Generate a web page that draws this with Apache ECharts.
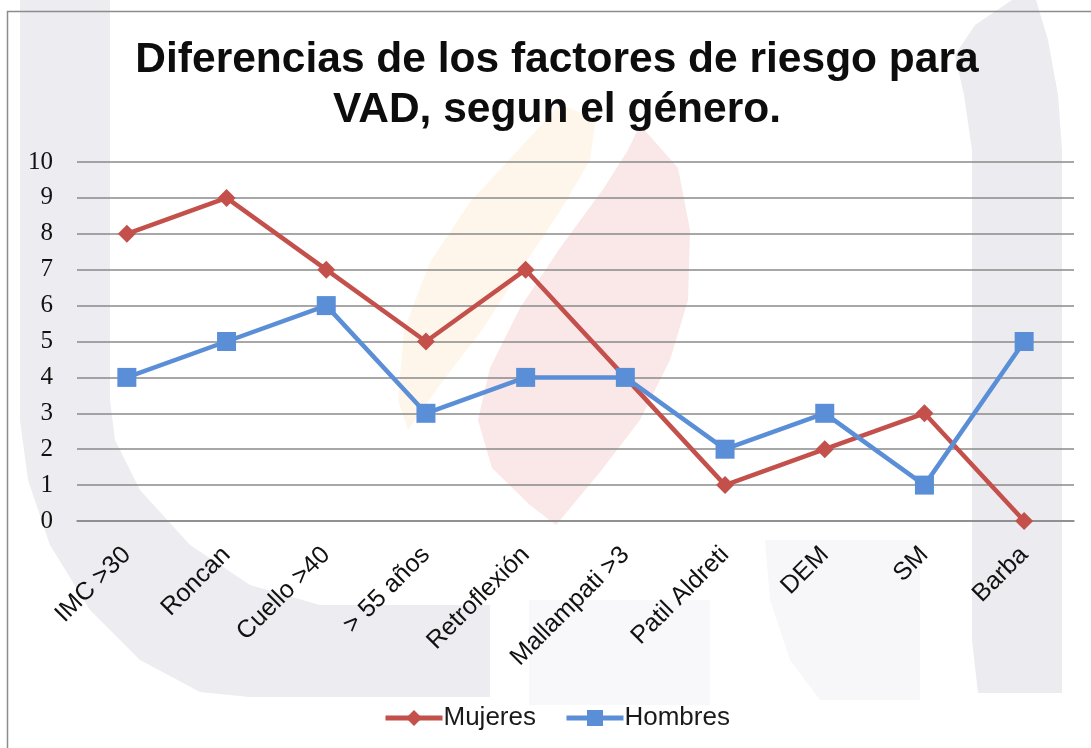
<!DOCTYPE html>
<html>
<head>
<meta charset="utf-8">
<title>Diferencias de los factores de riesgo para VAD, segun el género</title>
<script src="https://cdn.jsdelivr.net/npm/echarts@6/dist/echarts.min.js"></script>
<style>
  html, body { margin: 0; padding: 0; background: #ffffff; }
  #chart { width: 1091px; height: 748px; }
</style>
</head>
<body>
<div id="chart"></div>
<script>
// Risk factors for difficult airway (VAD), counts by gender
const categories = ['IMC >30', 'Roncan', 'Cuello >40', '> 55 años', 'Retroflexión',
                    'Mallampati >3', 'Patil Aldreti', 'DEM', 'SM', 'Barba'];
const mujeres = [8, 9, 7, 5, 7, 4, 1, 2, 3, 0];
const hombres = [4, 5, 6, 3, 4, 4, 2, 3, 1, 5];
const yTicks = { min: 0, max: 10, interval: 1 };

const RED = '#C4504C';
const BLUE = '#5A8FD8';
const GRID = '#8A8A8A';

// Faint background page watermark shapes
const watermark = [
  { points: [[20,0],[20,420],[28,480],[50,545],[90,610],[140,660],[200,692],[250,697],[490,697],[490,605],[320,605],[250,585],[190,545],[140,490],[115,440],[110,400],[110,0]], fill: '#ececf1' },
  { points: [[1012,0],[1036,0],[1048,40],[1058,95],[1062,150],[1062,693],[978,693],[972,640],[972,150],[964,95],[955,55],[975,25]], fill: '#ebebf0' },
  { points: [[765,540],[920,540],[920,700],[820,700],[790,660],[770,600]], fill: '#f7f7f9' },
  { points: [[529,600],[710,600],[710,705],[529,705]], fill: '#f8f8fa' },
  { points: [[560,105],[596,118],[590,160],[562,208],[522,268],[482,330],[442,382],[408,430],[398,400],[404,330],[430,262],[470,202],[520,148]], fill: '#fef6ea' },
  { points: [[640,125],[678,168],[690,230],[688,300],[670,360],[640,420],[600,472],[556,525],[530,505],[492,468],[478,420],[490,368],[520,308],[560,248],[604,188],[628,150]], fill: '#fae7e8' }
];

const chart = echarts.init(document.getElementById('chart'), null, { renderer: 'canvas' });

chart.setOption({
  backgroundColor: '#ffffff',
  animation: false,
  title: {
    text: 'Diferencias de los factores de riesgo para\nVAD, segun el género.',
    left: 552,
    textAlign: 'center',
    top: 30,
    textStyle: {
      fontFamily: 'Liberation Sans, Arial, sans-serif',
      fontWeight: 'bold',
      fontSize: 42.5,
      lineHeight: 50,
      color: '#0d0d0d'
    }
  },
  graphic: {
    elements: watermark.map(w => ({
      type: 'polygon',
      z: -10,
      silent: true,
      shape: { points: w.points },
      style: { fill: w.fill }
    })).concat([{
      type: 'rect',
      z: 10,
      silent: true,
      shape: { x: 7.5, y: 11.5, width: 1200, height: 900 },
      style: { fill: 'none', stroke: '#8c8c8c', lineWidth: 1.5 }
    }])
  },
  legend: {
    bottom: 12,
    left: 378,
    itemWidth: 57,
    itemHeight: 20,
    itemGap: 28,
    lineStyle: { width: 5 },
    textStyle: {
      fontFamily: 'Liberation Sans, Arial, sans-serif',
      fontSize: 26,
      color: '#1a1a1a',
      padding: [0, 0, 0, -4]
    },
    data: ['Mujeres', 'Hombres']
  },
  grid: {
    left: 77,
    right: 17,
    top: 162,
    bottom: 227,
    containLabel: false
  },
  xAxis: {
    type: 'category',
    data: categories,
    boundaryGap: true,
    axisTick: { show: false },
    axisLine: { show: true, lineStyle: { color: GRID, width: 1.5 } },
    axisLabel: {
      rotate: 45,
      margin: 30,
      interval: 0,
      fontFamily: 'Liberation Sans, Arial, sans-serif',
      fontSize: 25,
      color: '#111111'
    }
  },
  yAxis: {
    type: 'value',
    min: yTicks.min,
    max: yTicks.max,
    interval: yTicks.interval,
    axisLine: { show: false },
    axisTick: { show: false },
    splitLine: { show: true, lineStyle: { color: GRID, width: 1.5 } },
    axisLabel: {
      margin: 24,
      fontFamily: 'Liberation Serif, DejaVu Serif, serif',
      fontSize: 25,
      color: '#111111'
    }
  },
  series: [
    {
      name: 'Mujeres',
      type: 'line',
      data: mujeres,
      symbol: 'diamond',
      symbolSize: 18,
      lineStyle: { color: RED, width: 4.5 },
      itemStyle: { color: RED },
      z: 3
    },
    {
      name: 'Hombres',
      type: 'line',
      data: hombres,
      symbol: 'rect',
      symbolSize: 19,
      lineStyle: { color: BLUE, width: 4.5 },
      itemStyle: { color: BLUE },
      z: 4
    }
  ]
});
</script>
</body>
</html>
